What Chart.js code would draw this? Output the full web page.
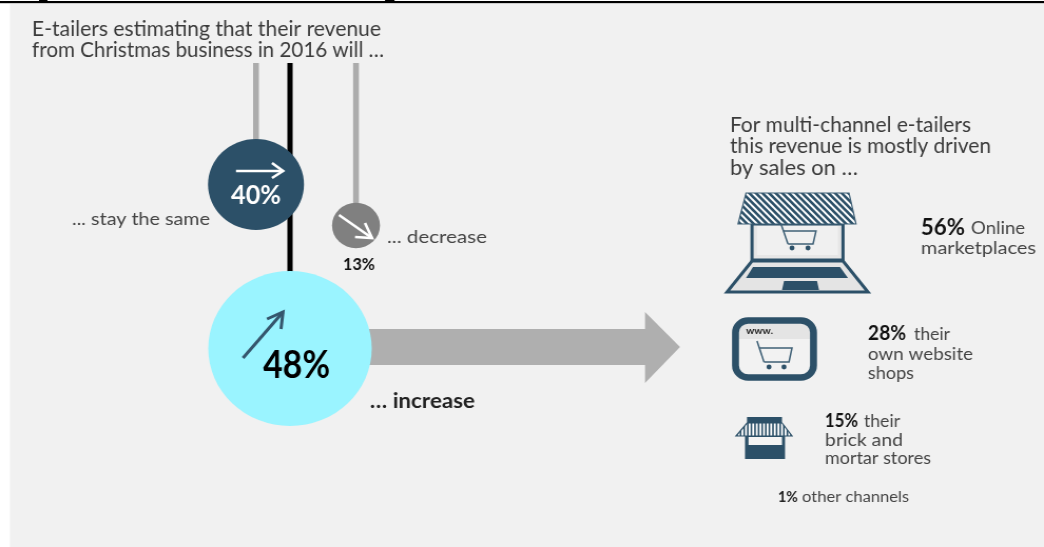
<!DOCTYPE html>
<html>
<head>
<meta charset="utf-8">
<title>E-tailers Christmas revenue</title>
<script src="https://cdn.jsdelivr.net/npm/chart.js@4/dist/chart.umd.min.js"></script>
<style>
  html, body { margin: 0; background: #fff; overflow: hidden; }
  /* the whole drawing is a little wider than tall, so circles come out as ellipses */
  #myChart { display: block; width: 990px; height: 547px; transform: scaleX(1.05454); transform-origin: 0 0; }
</style>
</head>
<body>
<canvas id="myChart" width="990" height="547"></canvas>
<script>
// survey values
const outcomes = ["stay the same", "decrease", "increase"];
const shares = [40, 13, 48];
const channelShares = [56, 28, 15, 1];

// where each outcome hangs on the board
const stemX = [256, 356, 290];
const bubbleY = [184.5, 225.5, 348.5];
const bubbleR = [45.5, 22.75, 77.5];
const stemTop = 63;

const navy = "#2c5068";
const bubbleColors = [navy, "#808080", "#9af4ff"];
const stemColors = ["#acacac", "#acacac", "#000000"];
const stemWidths = [5.5, 5.5, 5];
const textFont = "Lato, sans-serif";

// board units are plain pixels of the 1044 wide page
let X = v => v;
let Y = v => v;

function poly(ctx, pts, fill, stroke, lw) {
  ctx.beginPath();
  pts.forEach((p, i) => i ? ctx.lineTo(X(p[0]), Y(p[1])) : ctx.moveTo(X(p[0]), Y(p[1])));
  ctx.closePath();
  if (fill) { ctx.fillStyle = fill; ctx.fill(); }
  if (stroke) { ctx.strokeStyle = stroke; ctx.lineWidth = lw; ctx.stroke(); }
}

function stroke(ctx, pts, color, lw) {
  ctx.beginPath();
  pts.forEach((p, i) => i ? ctx.lineTo(X(p[0]), Y(p[1])) : ctx.moveTo(X(p[0]), Y(p[1])));
  ctx.strokeStyle = color;
  ctx.lineWidth = lw;
  ctx.stroke();
}

// text squeezed or stretched to a given width, vertically centred on y
function label(ctx, text, x, y, width, size, color, bold) {
  ctx.save();
  ctx.font = (bold ? "700 " : "400 ") + size + "px " + textFont;
  ctx.textBaseline = "middle";
  ctx.textAlign = "left";
  ctx.fillStyle = color;
  const k = (X(x + width) - X(x)) / ctx.measureText(text).width;
  ctx.translate(X(x), Y(y + 1));
  ctx.scale(k, 1);
  ctx.fillText(text, 0, 0);
  ctx.restore();
}

function arrow(ctx, from, tip, barbs, color, lw) {
  ctx.lineCap = "butt";
  stroke(ctx, [from, tip], color, lw);
  stroke(ctx, [barbs[0], tip, barbs[1]], color, lw);
}

function cart(ctx, handle, corner, right, bottomR, wheels) {
  const c = "#3f6076";
  stroke(ctx, [handle, [corner[0], corner[1]]], c, 1.5);
  stroke(ctx, [[handle[0] + (corner[0] - handle[0]) * 0.35, right[1]], right, bottomR, corner], c, 1.5);
  wheels.forEach(w => {
    ctx.beginPath();
    ctx.arc(X(w[0]), Y(w[1]), 2.4, 0, Math.PI * 2);
    ctx.fillStyle = navy;
    ctx.fill();
  });
}

function laptopIcon(ctx) {
  poly(ctx, [[752, 224], [843, 224], [843, 260], [752, 260]], "#e6e6e6", navy, 3);
  poly(ctx, [[757, 226], [838, 226], [838, 255], [757, 255]], "#f0f0f0");
  poly(ctx, [[752, 261], [843, 261], [868, 292], [727, 292]], "#e4e4e4", navy, 3);
  poly(ctx, [[753, 267], [840, 267], [848, 278], [746, 278]], navy);
  poly(ctx, [[784, 281], [817, 281], [819, 290], [782, 290]], navy);
  const roof = [[746, 193], [849, 193], [856, 224], [738, 224]];
  poly(ctx, roof, "#ffffff");
  ctx.save();
  ctx.beginPath();
  roof.forEach((p, i) => i ? ctx.lineTo(X(p[0]), Y(p[1])) : ctx.moveTo(X(p[0]), Y(p[1])));
  ctx.closePath();
  ctx.clip();
  for (let s = 700; s < 860; s += 6.6) {
    stroke(ctx, [[s, 190], [s + 38, 228]], navy, 2.6);
  }
  ctx.restore();
  poly(ctx, roof, null, "#3f6076", 1.2);
  cart(ctx, [781, 224], [788, 244], [816, 231], [813, 244], [[792, 248], [808, 248]]);
}

function browserIcon(ctx) {
  ctx.beginPath();
  ctx.roundRect(X(735.5), Y(320.5), X(813.5) - X(735.5), 57, 12);
  ctx.fillStyle = "#f2f2f2";
  ctx.fill();
  ctx.save();
  ctx.clip();
  ctx.fillStyle = "#e4e4e4";
  ctx.fillRect(X(735), Y(320), X(814) - X(735), 19);
  ctx.restore();
  ctx.strokeStyle = navy;
  ctx.lineWidth = 6.6;
  ctx.stroke();
  label(ctx, "www.", 746, 330, 27, 10, "#222222", true);
  cart(ctx, [757, 341], [764, 362], [792, 348], [789, 362], [[769, 367], [784, 367]]);
}

function storeIcon(ctx) {
  poly(ctx, [[745, 436], [785, 436], [785, 459], [745, 459]], navy);
  poly(ctx, [[748.5, 437], [782, 437], [782, 445], [748.5, 445]], "#f4f4f4");
  poly(ctx, [[747, 417], [782, 417], [782, 424], [747, 424]], navy);
  const awning = [[747, 423], [782, 423], [792, 436], [736, 436]];
  poly(ctx, awning, "#ffffff");
  ctx.save();
  ctx.beginPath();
  awning.forEach((p, i) => i ? ctx.lineTo(X(p[0]), Y(p[1])) : ctx.moveTo(X(p[0]), Y(p[1])));
  ctx.closePath();
  ctx.clip();
  for (let s = 737; s < 792; s += 3.6) {
    stroke(ctx, [[s, 422], [s, 437]], navy, 1.6);
  }
  ctx.restore();
  poly(ctx, awning, null, navy, 1.2);
}

const boardPlugin = {
  id: "board",
  beforeDatasetsDraw(chart) {
    const ctx = chart.ctx;
    X = v => chart.scales.x.getPixelForValue(v);
    Y = v => chart.scales.y.getPixelForValue(v);
    ctx.save();
    ctx.fillStyle = "#ffffff";
    ctx.fillRect(0, 0, chart.width, chart.height);
    ctx.fillStyle = "#f1f1f1";
    ctx.fillRect(X(10), Y(4), chart.width, chart.height);
    ctx.fillStyle = "#000000";
    ctx.fillRect(0, Y(1), chart.width, 2.2);
    // bits of the heading line cut off above the rule
    ctx.fillRect(X(39), 0, 8, 1.5);
    ctx.fillRect(X(385), 0, 9, 1.5);
    // wide arrow out of the "increase" bubble
    poly(ctx, [[330, 329], [645, 329], [645, 312], [680, 347], [645, 383], [645, 365], [330, 365]], "#afafaf");
    ctx.restore();
  },
  afterDatasetsDraw(chart) {
    const ctx = chart.ctx;
    ctx.save();

    label(ctx, "E-tailers estimating that their revenue", 32, 28, 349, 21, "#3a3a3a");
    label(ctx, "from Christmas business in 2016 will …", 32, 49, 352, 21, "#3a3a3a");

    arrow(ctx, [236, 171], [283, 171], [[272, 163], [272, 178]], "#ffffff", 2.6);
    arrow(ctx, [339, 215], [372, 238], [[355, 237], [365, 223]], "#ffffff", 2.6);
    arrow(ctx, [243, 358], [283, 312], [[267, 319], [281, 329]], "#35566d", 3);

    label(ctx, shares[0] + "%", 231, 195, 50, 26, "#ffffff", true);
    label(ctx, shares[1] + "%", 343, 264, 32, 17, "#111111", true);
    label(ctx, shares[2] + "%", 263, 365, 67, 38, "#000000", true);

    label(ctx, "... " + outcomes[0], 72, 218, 138, 18, "#444444");
    label(ctx, "... " + outcomes[1], 387, 236, 100, 18, "#444444");
    label(ctx, "… " + outcomes[2], 370, 401, 105, 20, "#222222", true);

    label(ctx, "For multi-channel e-tailers", 730, 124, 241, 20.5, "#3a3a3a");
    label(ctx, "this revenue is mostly driven", 730, 145, 261, 20.5, "#3a3a3a");
    label(ctx, "by sales on …", 730, 167, 128, 20.5, "#3a3a3a");

    laptopIcon(ctx);
    browserIcon(ctx);
    storeIcon(ctx);

    label(ctx, channelShares[0] + "%", 921, 227, 44, 23, "#111111", true);
    label(ctx, "Online", 971, 227, 54, 18, "#444444");
    label(ctx, "marketplaces", 921, 247, 115, 18, "#444444");

    label(ctx, channelShares[1] + "%", 868, 333, 38, 20, "#111111", true);
    label(ctx, "their", 914, 333, 36, 18, "#444444");
    label(ctx, "own website", 868, 353, 105, 18, "#444444");
    label(ctx, "shops", 868, 372, 46, 18, "#444444");

    label(ctx, channelShares[2] + "%", 825, 420, 33, 18, "#111111", true);
    label(ctx, "their", 864, 420, 36, 18, "#444444");
    label(ctx, "brick and", 825, 439, 78, 18, "#444444");
    label(ctx, "mortar stores", 825, 457, 106, 18, "#444444");

    label(ctx, channelShares[3] + "%", 778, 496, 20, 15, "#222222", true);
    label(ctx, "other channels", 802, 496, 107, 14.5, "#444444");

    ctx.restore();
  },
};

const stemSets = outcomes.map((name, i) => ({
  type: "line",
  label: name + " stem",
  data: [{ x: stemX[i], y: stemTop }, { x: stemX[i], y: bubbleY[i] }],
  borderColor: stemColors[i],
  borderWidth: stemWidths[i],
  pointRadius: 0,
  order: 2,
}));

new Chart("myChart", {
  type: "bubble",
  data: {
    datasets: [
      {
        label: "Revenue estimate",
        data: outcomes.map((name, i) => ({ x: stemX[i], y: bubbleY[i], r: bubbleR[i], share: shares[i] })),
        backgroundColor: bubbleColors,
        borderWidth: 0,
        order: 1,
      },
      ...stemSets,
    ],
  },
  options: {
    responsive: false,
    animation: false,
    devicePixelRatio: 1,
    layout: { padding: 0, autoPadding: false },
    plugins: {
      legend: { display: false },
      title: { display: false },
      tooltip: { enabled: false },
    },
    scales: {
      x: { type: "linear", display: false, min: 0, max: 1044 },
      y: { type: "linear", display: false, min: 0, max: 547, reverse: true },
    },
  },
  plugins: [boardPlugin],
});
</script>
</body>
</html>
